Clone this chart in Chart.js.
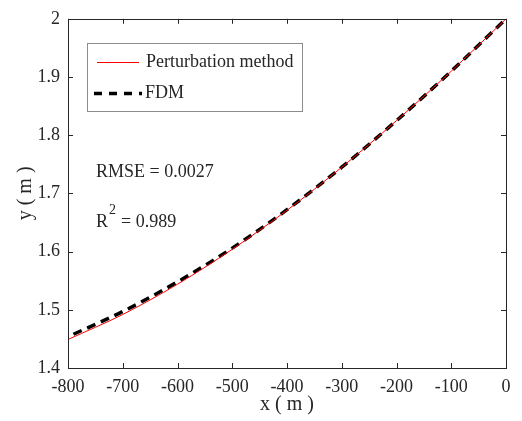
<!DOCTYPE html>
<html>
<head>
<meta charset="utf-8">
<script src="https://cdn.jsdelivr.net/npm/chart.js@4.4.1/dist/chart.umd.min.js"></script>
<style>
  html, body { margin: 0; padding: 0; background: #fff; }
</style>
</head>
<body>
<canvas id="chart" width="522" height="421"></canvas>
<script>
// values
const pertX = [-800, -700, -600, -500, -400, -300, -200, -100, 0];
const pertY = [1.449, 1.492, 1.544, 1.604, 1.671, 1.745, 1.825, 1.910, 2.0];
const fdmX = [-790, -700, -600, -500, -400, -300, -200, -100, 0];
const fdmY = [1.458, 1.497, 1.548, 1.606, 1.672, 1.745, 1.825, 1.910, 2.0];
const legendLabels = ['Perturbation method', 'FDM'];
const rmseText = 'RMSE = 0.0027';
const r2Value = '0.989';

const serif = "'Liberation Serif', 'Times New Roman', serif";
const ink = '#262626';

const toPoints = (xs, ys) => xs.map((x, i) => ({ x: x, y: ys[i] }));

// box, inward ticks, legend and the two notes
const decor = {
  id: 'decor',
  afterDatasetsDraw(chart) {
    const { ctx, chartArea: a, scales: { x, y } } = chart;
    ctx.save();
    ctx.strokeStyle = ink;
    ctx.lineWidth = 1;
    ctx.beginPath();
    x.ticks.forEach(t => {
      const px = Math.round(x.getPixelForValue(t.value)) + 0.5;
      ctx.moveTo(px, a.bottom); ctx.lineTo(px, a.bottom - 5);
      ctx.moveTo(px, a.top); ctx.lineTo(px, a.top + 5);
    });
    y.ticks.forEach(t => {
      const py = Math.round(y.getPixelForValue(t.value)) + 0.5;
      ctx.moveTo(a.left, py); ctx.lineTo(a.left + 5, py);
      ctx.moveTo(a.right, py); ctx.lineTo(a.right - 5, py);
    });
    ctx.stroke();
    ctx.strokeRect(Math.round(a.left) + 0.5, Math.round(a.top) + 0.5,
      Math.round(a.right - a.left), Math.round(a.bottom - a.top));

    // legend
    ctx.fillStyle = '#fff';
    ctx.fillRect(87, 43, 215, 68);
    ctx.strokeStyle = '#8c8c8c';
    ctx.strokeRect(87.5, 43.5, 215, 68);
    ctx.strokeStyle = '#ff0000';
    ctx.lineWidth = 1;
    ctx.beginPath(); ctx.moveTo(97, 62.5); ctx.lineTo(139, 62.5); ctx.stroke();
    ctx.strokeStyle = '#000';
    ctx.lineWidth = 3.5;
    ctx.setLineDash([8, 7]);
    ctx.beginPath(); ctx.moveTo(94, 93.5); ctx.lineTo(142, 93.5); ctx.stroke();
    ctx.setLineDash([]);

    ctx.fillStyle = ink;
    ctx.font = '18px ' + serif;
    ctx.textBaseline = 'alphabetic';
    ctx.textAlign = 'left';
    ctx.fillText(legendLabels[0], 146, 67);
    ctx.fillText(legendLabels[1], 145, 98);

    ctx.fillText(rmseText, 96, 177);
    ctx.fillText('R', 96, 227);
    ctx.font = '14px ' + serif;
    ctx.fillText('2', 109, 214);
    ctx.font = '18px ' + serif;
    ctx.fillText('= ' + r2Value, 121, 227);
    ctx.restore();
  }
};

new Chart(document.getElementById('chart').getContext('2d'), {
  type: 'scatter',
  data: {
    datasets: [
      {
        label: legendLabels[0],
        data: toPoints(pertX, pertY),
        showLine: true,
        borderColor: '#ff0000',
        borderWidth: 1,
        pointRadius: 0,
        cubicInterpolationMode: 'monotone'
      },
      {
        label: legendLabels[1],
        data: toPoints(fdmX, fdmY),
        showLine: true,
        borderColor: '#000000',
        borderWidth: 3.5,
        borderDash: [9, 6],
        pointRadius: 0,
        cubicInterpolationMode: 'monotone'
      }
    ]
  },
  options: {
    responsive: false,
    animation: false,
    devicePixelRatio: 1,
    layout: { padding: { top: 16, right: 16, left: 0, bottom: 0 } },
    plugins: { legend: { display: false }, tooltip: { enabled: false } },
    scales: {
      x: {
        type: 'linear',
        min: -800, max: 0,
        grid: { display: false, drawTicks: false },
        border: { display: false },
        ticks: {
          stepSize: 100, padding: 8, color: ink, maxRotation: 0,
          font: { family: serif, size: 18 },
          callback: v => String(v)
        },
        title: {
          display: true, text: 'x ( m )', color: ink,
          font: { family: serif, size: 20 }, padding: { top: 0, bottom: 4 }
        },
        afterFit: s => { s.height = 53; }
      },
      y: {
        type: 'linear',
        min: 1.4, max: 2,
        grid: { display: false, drawTicks: false },
        border: { display: false },
        ticks: {
          stepSize: 0.1, padding: 8, color: ink,
          font: { family: serif, size: 18 },
          callback: v => String(+v.toFixed(1))
        },
        title: {
          display: true, text: 'y ( m )', color: ink,
          font: { family: serif, size: 20 }, padding: { top: 14, bottom: 0 }
        },
        afterFit: s => { s.width = 68; }
      }
    }
  },
  plugins: [decor]
});
</script>
</body>
</html>
